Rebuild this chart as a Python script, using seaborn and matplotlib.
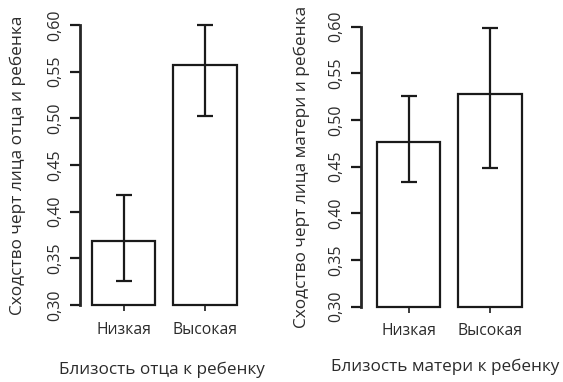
import numpy as np
import matplotlib
matplotlib.use("Agg")
import matplotlib.pyplot as plt
from matplotlib.ticker import FuncFormatter
import seaborn as sns

# ── Data ─────────────────────────────────────────────────────────────────────
categories   = ["Низкая", "Высокая"]

father_mean  = [0.369, 0.557]
father_low   = [0.326, 0.503]
father_high  = [0.418, 0.600]

mother_mean  = [0.476, 0.528]
mother_low   = [0.434, 0.449]
mother_high  = [0.526, 0.599]

y_ticks      = [0.30, 0.35, 0.40, 0.45, 0.50, 0.55, 0.60]
Y_MIN, Y_MAX = 0.30, 0.60

father_ylabel = "Сходство черт лица отца и ребенка"
father_xlabel = "Близость отца к ребенку"
mother_ylabel = "Сходство черт лица матери и ребенка"
mother_xlabel = "Близость матери к ребенку"

# ── Style ────────────────────────────────────────────────────────────────────
sns.set_style("ticks")
plt.rcParams["font.family"] = ["Open Sans", "DejaVu Sans"]
INK = "#1a1a1a"
TXT = "#2b2b2b"
plt.rcParams["text.color"] = TXT
plt.rcParams["axes.labelcolor"] = TXT
plt.rcParams["xtick.color"] = INK
plt.rcParams["ytick.color"] = INK
plt.rcParams["xtick.labelcolor"] = TXT
plt.rcParams["ytick.labelcolor"] = TXT

fig = plt.figure(figsize=(5.63, 3.82), dpi=100)


def draw_panel(rect, means, lows, highs, ylabel, xlabel, xlim, ypad, xpad):
    ax = fig.add_axes(rect)
    sns.barplot(x=categories, y=means, ax=ax, color="white", saturation=1,
                edgecolor=INK, linewidth=1.6, width=0.78, errorbar=None)

    # bars start at the bottom of the axis (0,30), not at zero
    for p in ax.patches:
        top = p.get_y() + p.get_height()
        p.set_y(Y_MIN)
        p.set_height(top - Y_MIN)
        p.set_clip_on(False)

    xs = np.arange(len(categories))
    means_a = np.array(means)
    yerr = [means_a - np.array(lows), np.array(highs) - means_a]
    ax.errorbar(xs, means_a, yerr=yerr, fmt="none", ecolor=INK,
                elinewidth=1.6, capsize=6, capthick=1.6, clip_on=False)

    ax.set_ylim(Y_MIN, Y_MAX)
    ax.set_xlim(*xlim)
    ax.set_yticks(y_ticks)
    ax.yaxis.set_major_formatter(FuncFormatter(lambda v, _: f"{v:.2f}".replace(".", ",")))
    for lab in ax.get_yticklabels():
        lab.set_rotation(90)
        lab.set_va("center")

    ax.tick_params(axis="y", length=7, width=1.6, labelsize=11.5, pad=5)
    ax.tick_params(axis="x", length=4, width=1.2, labelsize=11.3, pad=8)

    sns.despine(ax=ax, bottom=True)
    ax.spines["left"].set_linewidth(2)
    ax.spines["left"].set_bounds(Y_MIN, Y_MAX)

    ax.set_ylabel(ylabel, fontsize=12.4, labelpad=ypad)
    ax.set_xlabel(xlabel, fontsize=12.3, labelpad=xpad)
    return ax


draw_panel([0.142, 0.2016, 0.293, 0.733], father_mean, father_low, father_high,
           father_ylabel, father_xlabel, (-0.537, 1.49), ypad=15, xpad=17)
draw_panel([0.641, 0.197, 0.300, 0.733], mother_mean, mother_low, mother_high,
           mother_ylabel, mother_xlabel, (-0.586, 1.49), ypad=13, xpad=14)

fig.savefig("out.png", dpi=100)
